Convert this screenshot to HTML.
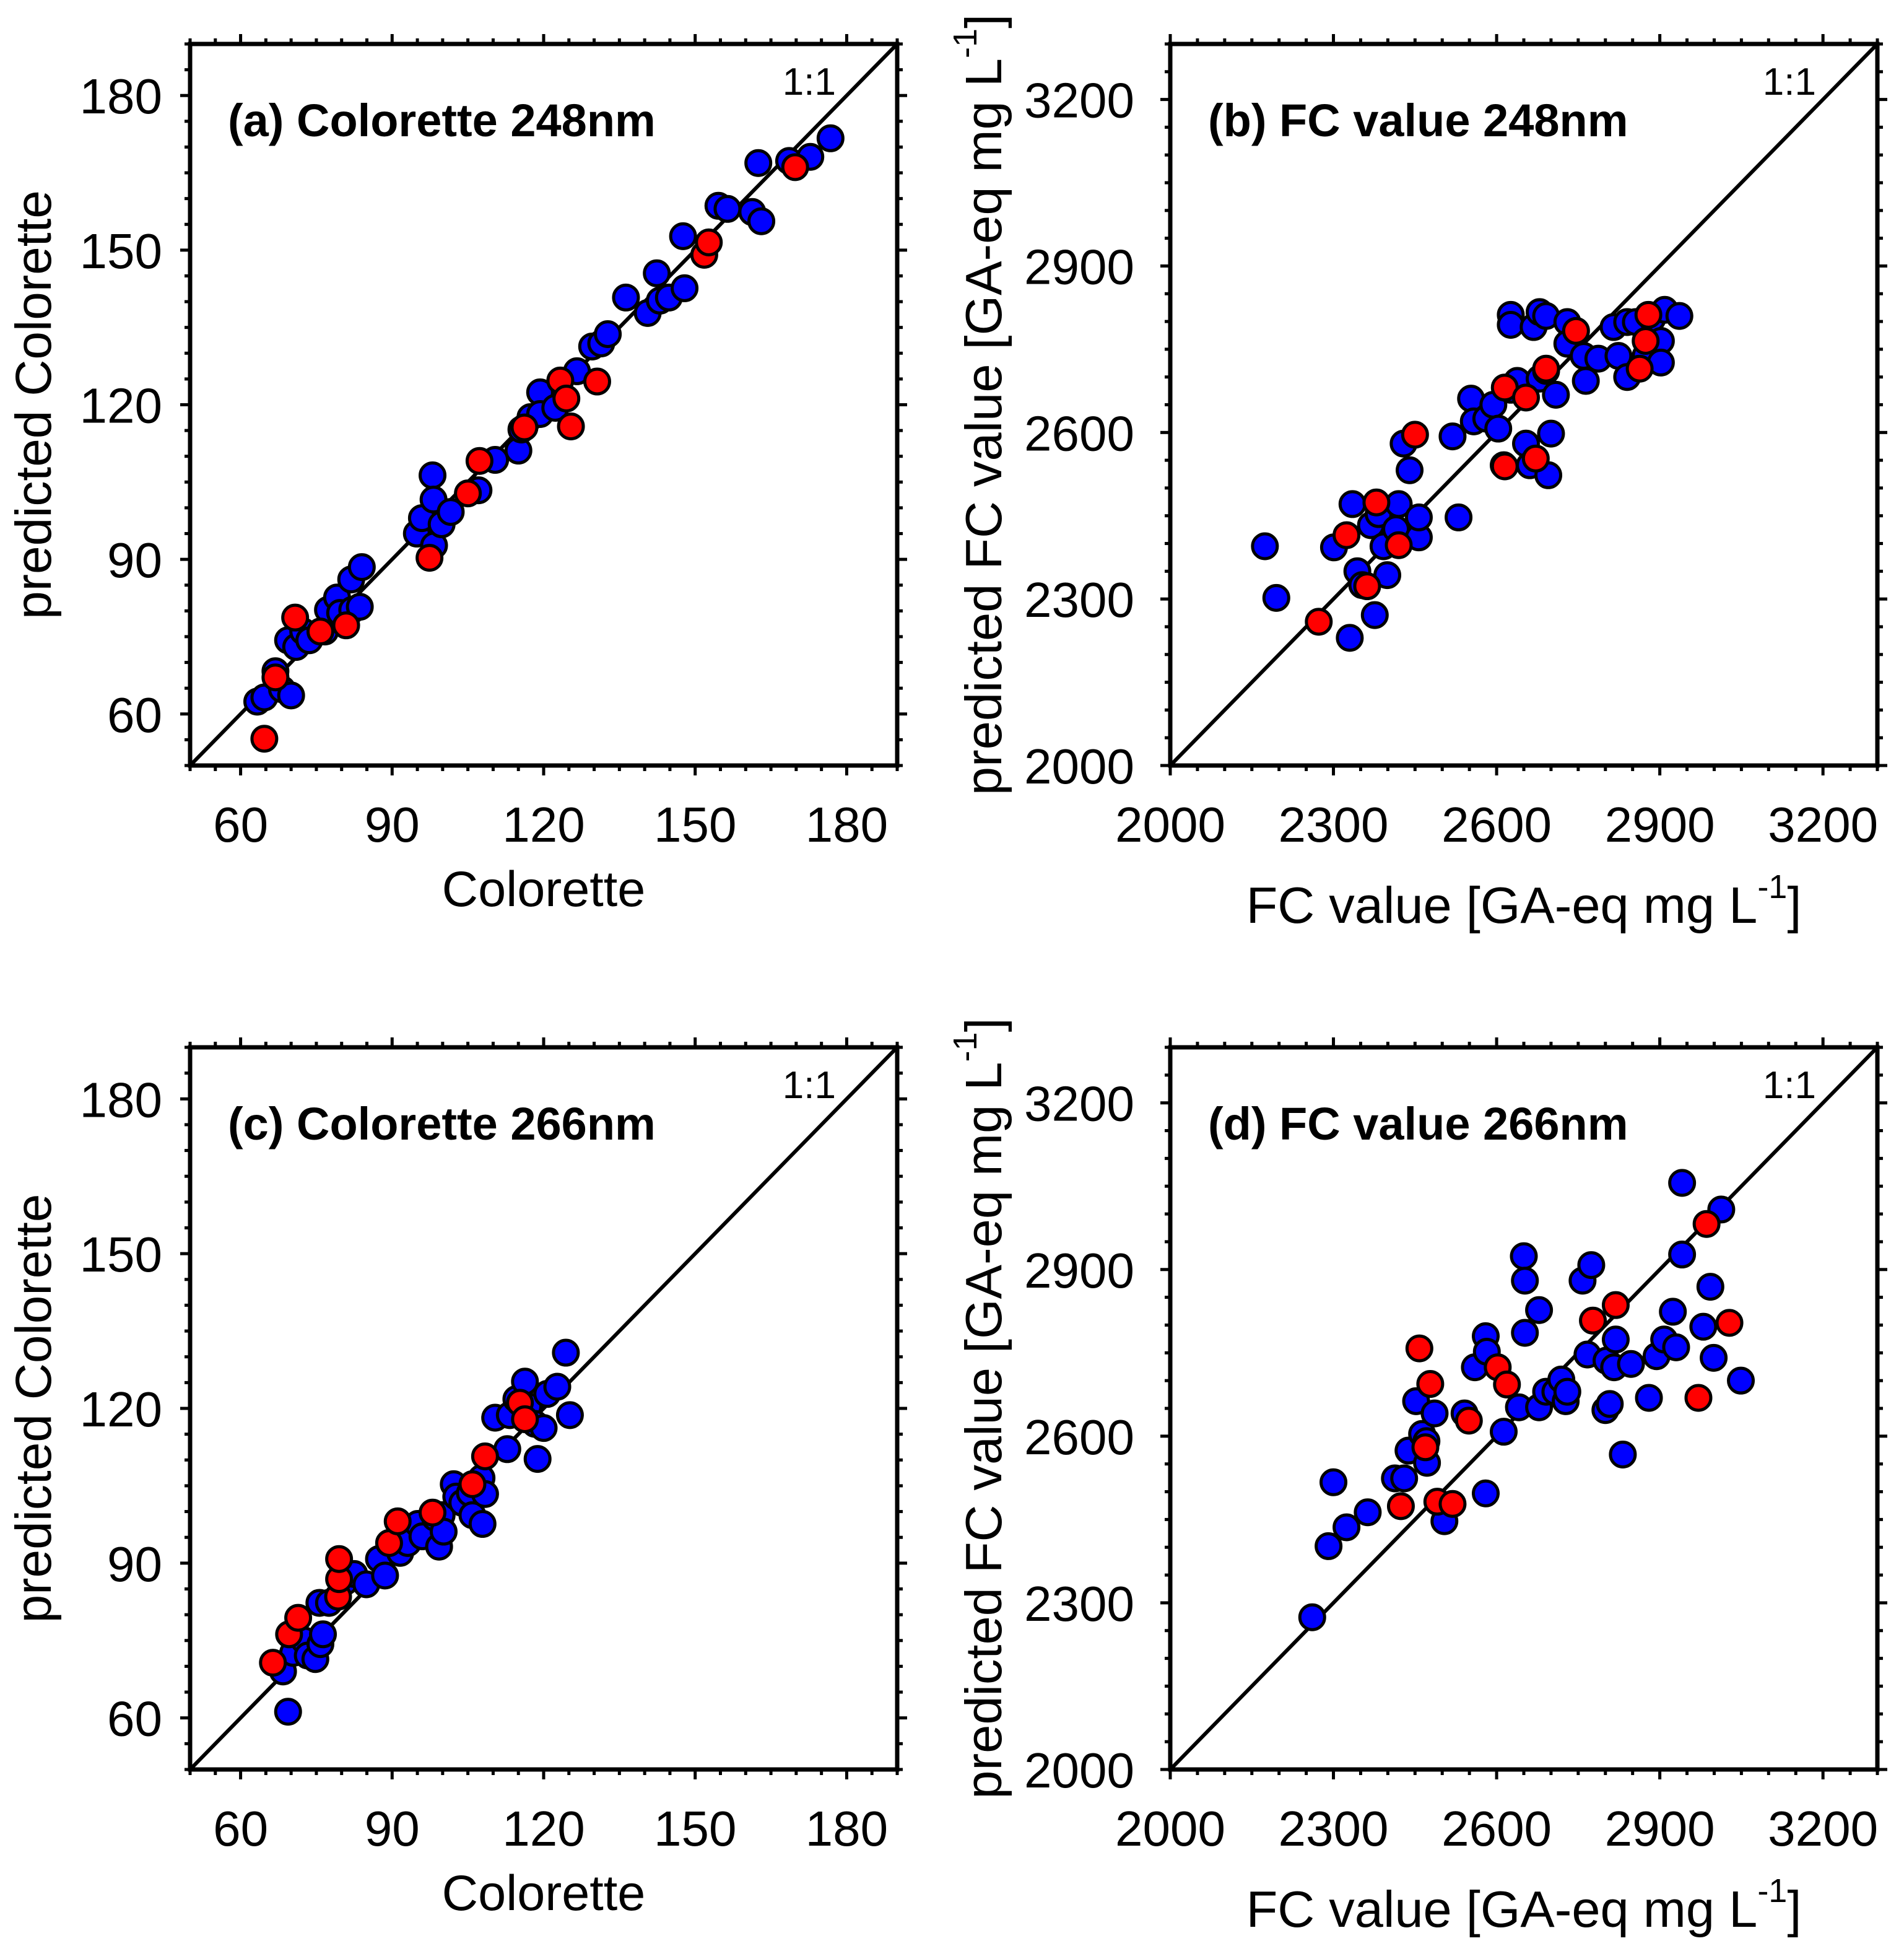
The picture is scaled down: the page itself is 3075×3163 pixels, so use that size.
<!DOCTYPE html>
<html><head><meta charset="utf-8"><style>
html,body{margin:0;padding:0;background:#fff;}
svg{display:block;font-family:"Liberation Sans",Arial,sans-serif;}
</style></head><body>
<svg id="chart" width="3075" height="3163" viewBox="0 0 3075 3163" xmlns="http://www.w3.org/2000/svg"></svg>
<script>
// ---- Panel (a) Colorette 248nm ----
const aBlueX=[63.3,64.7,66.9,68.2,70,69.4,71,72.4,73.6,76.7,77.3,79.1,79.7,81.9,82.1,83.6,84,94.9,95.9,98,98.2,98.3,99.8,101.6,107.1,110.4,115,115.6,117.4,119.3,119.3,122.3,126.6,129.6,131.4,132.7,136.3,140.6,142.4,143,144.8,147.9,147.6,154.6,156.4,161.3,163.1,162.5,168.6,172.8,176.8];
const aBlueY=[62.4,63.2,68.3,64.8,63.6,74.3,73,76,74.3,76,80.2,82.6,79.6,86.1,80.2,80.8,88.5,95,98,106.3,101.6,92.7,96.8,99.2,103.4,109.3,111.1,115.2,117.6,122.4,118.2,119.4,126.5,131.3,131.9,133.7,140.8,137.8,145.5,140.2,140.8,142.6,152.7,158.6,158,157.4,155.6,166.9,167.3,168.1,171.7];
const aRedX=[64.7,66.9,70.8,75.8,80.9,97.4,105,107.3,116.2,123.3,124.5,125.4,130.6,151.8,152.7,169.8];
const aRedY=[55.2,67.1,78.7,76,77.2,90.3,102.8,109.1,115.6,124.7,121.2,115.8,124.5,149.1,151.5,166.1];
// ---- Panel (b) FC value 248nm ----
const bBlueX=[2174,2195,2301,2330,2335,2344,2353,2376,2369,2383,2392,2399,2420,2415,2429,2440,2457,2457,2530,2519,2553,2558,2581,2594,2603,2613,2626,2626,2626,2638,2654,2661,2668,2679,2679,2691,2695,2700,2709,2691,2730,2730,2760,2764,2787,2815,2824,2840,2840,2856,2874,2886,2902,2902,2909,2936];
const bBlueY=[2395,2302,2393,2230,2471,2350,2325,2271,2433,2453,2395,2343,2471,2426,2580,2532,2411,2447,2447,2593,2661,2620,2625,2650,2607,2541,2677,2812,2794,2693,2580,2541,2790,2697,2817,2810,2523,2598,2668,2711,2799,2760,2738,2693,2733,2790,2738,2700,2799,2799,2738,2805,2765,2726,2821,2810];
const bRedX=[2273,2324,2362,2379,2420,2450,2615,2615,2654,2672,2691,2746,2863,2874,2879];
const bRedY=[2259,2415,2323,2474,2397,2596,2539,2681,2663,2553,2715,2783,2715,2765,2812];
// ---- Panel (c) Colorette 266nm ----
const cBlueX=[69.4,68.4,70.4,72.6,73.3,74.8,75.8,76.3,75.6,77.5,80.7,82.5,84.9,87.4,88.6,91.6,93.1,95.1,96,98.5,99.8,99.3,100.2,102.2,102.7,103.9,105.4,105.9,107.9,107.7,108.4,110.4,113.3,112.8,114.6,116.3,117,118.3,118.8,120,120.7,122.7,124.4,125.2];
const cBlueY=[61.2,69,72.6,75,72.1,71.4,74.3,76.2,82.3,82.3,86.4,87.9,85.9,90.8,87.6,92,93.9,97.6,95.2,98.8,99.3,93.2,96.1,105.3,102.9,101.7,103.6,99.3,97.6,106.5,103.4,118.2,118.7,112.1,121.8,125.2,120.4,117,110.2,116.2,122.8,124.2,130.8,118.7];
const cRedX=[66.4,69.6,71.4,79.3,79.5,79.5,89.4,91.1,98,105.9,108.4,115.3,116.3];
const cRedY=[70.7,76.2,79.4,83.5,86.9,90.8,93.9,98.1,99.8,105.3,110.7,121.1,117.9];
// ---- Panel (d) FC value 266nm ----
const dBlueX=[2261,2291,2300,2324,2363,2413,2430,2438,2452,2463,2472,2471,2486,2504,2541,2560,2580,2582,2580,2613,2641,2650,2652,2652,2678,2678,2691,2708,2719,2727,2730,2758,2774,2767,2800,2802,2808,2816,2819,2832,2847,2880,2894,2908,2924,2930,2941,2941,2980,2993,2999,3013,3049];
const dBlueY=[2274,2402,2517,2436,2463,2524,2524,2574,2663,2604,2552,2591,2641,2447,2641,2724,2780,2752,2497,2608,2652,2924,2880,2786,2827,2652,2680,2680,2702,2663,2680,2880,2908,2747,2647,2736,2658,2724,2774,2567,2730,2669,2744,2774,2824,2760,2927,3056,2797,2869,2741,3008,2700];
const dRedX=[2424,2458,2478,2469,2491,2519,2549,2602,2619,2777,2819,2971,2986,3028];
const dRedY=[2474,2758,2694,2580,2482,2478,2628,2724,2693,2808,2836,2669,2982,2804];

const colTicks=[60,90,120,150,180];
const fcTicks=[2000,2300,2600,2900,3200];
const colDomain=[50,190];
const fcDomain=[2000,3300];

const NS="http://www.w3.org/2000/svg";
const svg=document.getElementById('chart');
function mk(tag,attrs,parent){const e=document.createElementNS(NS,tag);for(const k in attrs)e.setAttribute(k,attrs[k]);(parent||svg).appendChild(e);return e;}

const panels=[
 {id:'a',L:307,T:71,W:1142,H:1165,dom:colDomain,ticks:colTicks,minor:5,title:'(a) Colorette 248nm',xt:'Colorette',yt:'predicted Colorette',fc:false,bx:aBlueX,by:aBlueY,rx:aRedX,ry:aRedY},
 {id:'b',L:1890,T:71,W:1142,H:1165,dom:fcDomain,ticks:fcTicks,minor:50,title:'(b) FC value 248nm',fc:true,bx:bBlueX,by:bBlueY,rx:bRedX,ry:bRedY},
 {id:'c',L:307,T:1691,W:1142,H:1166,dom:colDomain,ticks:colTicks,minor:5,title:'(c) Colorette 266nm',xt:'Colorette',yt:'predicted Colorette',fc:false,bx:cBlueX,by:cBlueY,rx:cRedX,ry:cRedY},
 {id:'d',L:1890,T:1691,W:1142,H:1166,dom:fcDomain,ticks:fcTicks,minor:50,title:'(d) FC value 266nm',fc:true,bx:dBlueX,by:dBlueY,rx:dRedX,ry:dRedY}
];

panels.forEach(p=>{
 const g=mk('g',{});
 
 
 const R=p.L+p.W,B=p.T+p.H;
 const sx=v=>p.L+(v-p.dom[0])/(p.dom[1]-p.dom[0])*p.W;
 const sy=v=>B-(v-p.dom[0])/(p.dom[1]-p.dom[0])*p.H;
 const tg=mk('g',{stroke:'#000','stroke-width':5},g);
 
 
 const n=Math.round((p.dom[1]-p.dom[0])/p.minor);
 for(let i=0;i<=n;i++){
  const v=p.dom[0]+i*p.minor;
  const major=p.ticks.some(t=>Math.abs(t-v)<1e-6);
  const len=major?16:9;
  const x=sx(v),y=sy(v);
  mk('line',{x1:x,y1:B,x2:x,y2:B+len},tg);
  mk('line',{x1:x,y1:p.T,x2:x,y2:p.T-len},tg);
  mk('line',{x1:p.L,y1:y,x2:p.L-len,y2:y},tg);
  mk('line',{x1:R,y1:y,x2:R+len,y2:y},tg);
 }
 const ol=mk('line',{x1:sx(p.dom[0]),y1:sy(p.dom[0]),x2:sx(p.dom[1]),y2:sy(p.dom[1]),stroke:'#000','stroke-width':6},g);
 
 
 const fr=mk('rect',{x:p.L,y:p.T,width:p.W,height:p.H,fill:'none',stroke:'#000','stroke-width':7},g);
 
 
 const yOff=p.fc?58:45;
 p.ticks.forEach(t=>{
  const xl=mk('text',{x:sx(t),y:B+123,'font-size':80,'text-anchor':'middle'},g);
  xl.textContent=t;
  
  
  const yl=mk('text',{x:p.L-yOff,y:sy(t)+29,'font-size':80,'text-anchor':'end'},g);
  yl.textContent=t;
  
  
 });
 const pg=mk('g',{stroke:'#000','stroke-width':5},g);
 
 
 p.bx.forEach((v,i)=>{
  const c=mk('circle',{cx:sx(v),cy:sy(p.by[i]),r:20,fill:'#0000ff'},pg);
  
  
 });
 p.rx.forEach((v,i)=>{
  const c=mk('circle',{cx:sx(v),cy:sy(p.ry[i]),r:20,fill:'#ff0000'},pg);
  
  
 });
 const pt=mk('text',{x:p.L+61,y:p.T+149,'font-size':74,'font-weight':'bold'},g);
 pt.textContent=p.title;
 
 
 const one=mk('text',{x:R-99,y:p.T+82,'font-size':62,'text-anchor':'end'},g);
 one.textContent='1:1';
 
 
 const cx=(p.L+R)/2,cy=(p.T+B)/2;
 if(!p.fc){
  const xt=mk('text',{x:cx,y:B+227,'font-size':81,'text-anchor':'middle'},g);
  xt.textContent=p.xt;
  
  
  const yt=mk('text',{x:0,y:0,'font-size':82,'text-anchor':'middle',transform:`translate(${p.L-225},${cy}) rotate(-90)`},g);
  yt.textContent=p.yt;
  
  
 } else {
  const xt=mk('text',{x:cx,y:B+254,'font-size':83,'text-anchor':'middle'},g);
  xt.innerHTML='FC value [GA-eq mg L<tspan font-size="54" dy="-40">-1</tspan><tspan dy="40">]</tspan>';
  
  
  const yt=mk('text',{x:0,y:0,'font-size':83,'text-anchor':'middle',transform:`translate(${p.L-273},${cy}) rotate(-90)`},g);
  yt.innerHTML='predicted FC value [GA-eq mg L<tspan font-size="54" dy="-40">-1</tspan><tspan dy="40">]</tspan>';
  
  
 }
});
</script>
</body></html>
